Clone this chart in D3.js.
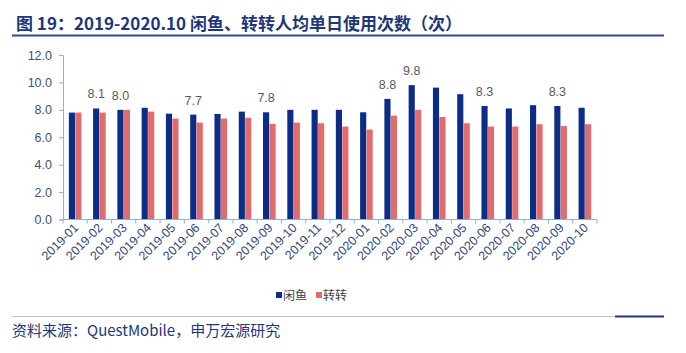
<!DOCTYPE html>
<html>
<head>
<meta charset="utf-8">
<script src="https://cdn.jsdelivr.net/npm/d3@7"></script>
<style>
  body { margin: 0; background: #fff; }
  svg { display: block; }
</style>
</head>
<body>
<div class="chart"></div>
<script>
const width = 686;
const height = 353;

// data
const months = ["2019-01", "2019-02", "2019-03", "2019-04", "2019-05", "2019-06", "2019-07", "2019-08",
    "2019-09", "2019-10", "2019-11", "2019-12", "2020-01", "2020-02", "2020-03", "2020-04",
    "2020-05", "2020-06", "2020-07", "2020-08", "2020-09", "2020-10"];
const xianyu = [7.8, 8.1, 8.0, 8.15, 7.72, 7.65, 7.7, 7.87, 7.82, 8.0, 8.0, 8.0, 7.82, 8.8, 9.8, 9.62,
    9.14, 8.28, 8.1, 8.34, 8.28, 8.15];
const zhuanzhuan = [7.8, 7.8, 8.0, 7.87, 7.36, 7.07, 7.36, 7.42, 6.97, 7.07, 7.02, 6.78, 6.56, 7.58,
    8.0, 7.48, 7.02, 6.78, 6.78, 6.95, 6.82, 6.95];
// months that carry a value label on the 闲鱼 bar
const labelled = ["2019-02", "2019-03", "2019-06", "2019-09", "2020-02", "2020-03", "2020-06", "2020-09"];
const yTicks = [0, 2, 4, 6, 8, 10, 12];
const seriesNames = ["闲鱼", "转转"];
const colors = ["#0b2d85", "#e36b6b"];

const titleText = "图 19：2019-2020.10 闲鱼、转转人均单日使用次数（次）";
const sourceText = "资料来源：QuestMobile，申万宏源研究";

const cjk = "'Noto Sans CJK SC', 'Noto Sans', sans-serif";
const latin = "'Liberation Sans', Arial, sans-serif";

const svg = d3.select(".chart").append("svg")
    .attr("width", width)
    .attr("height", height);

svg.append("rect").attr("width", width).attr("height", height).attr("fill", "#fff");

// Title + rule
svg.append("text")
    .attr("x", 16)
    .attr("y", 30)
    .attr("font-family", cjk)
    .attr("font-weight", "bold")
    .attr("font-size", 17)
    .attr("fill", "#1d3778")
    .text(titleText);

svg.append("line")
    .attr("x1", 12).attr("x2", 664)
    .attr("y1", 35.5).attr("y2", 35.5)
    .attr("stroke", "#2b4a92")
    .attr("stroke-width", 2);

// Scales
const x = d3.scaleBand()
    .domain(months)
    .range([63, 597]);

const y = d3.scaleLinear()
    .domain([0, 12])
    .range([219.5, 55]);

const x1 = d3.scaleBand()
    .domain(seriesNames)
    .range([0, 12.6])
    .paddingInner(0.05);

const barOffset = x.bandwidth() / 2 - 6.3;
const axisColor = "#8eb1d9";

// Y axis
const yAxis = svg.append("g")
    .attr("transform", "translate(63,0)")
    .call(d3.axisLeft(y).tickValues(yTicks).tickFormat(d3.format(".1f")).tickSize(4).tickPadding(7));
yAxis.select(".domain").attr("stroke", axisColor);
yAxis.selectAll(".tick line").attr("stroke", axisColor);
yAxis.selectAll(".tick text")
    .attr("font-family", latin)
    .attr("font-size", 12.5)
    .attr("fill", "#3f4f78");

// Bars
const groups = svg.append("g")
    .selectAll("g")
    .data(months)
    .join("g")
    .attr("transform", d => `translate(${x(d) + barOffset},0)`);

groups.append("rect")
    .attr("x", x1("闲鱼"))
    .attr("width", x1.bandwidth())
    .attr("y", (d, i) => y(xianyu[i]))
    .attr("height", (d, i) => y(0) - y(xianyu[i]))
    .attr("fill", colors[0]);

groups.append("rect")
    .attr("x", x1("转转"))
    .attr("width", x1.bandwidth())
    .attr("y", (d, i) => y(zhuanzhuan[i]))
    .attr("height", (d, i) => y(0) - y(zhuanzhuan[i]))
    .attr("fill", colors[1]);

// Value labels on selected 闲鱼 bars
groups.filter(d => labelled.includes(d))
    .append("text")
    .attr("x", x1("闲鱼") + x1.bandwidth() / 2)
    .attr("y", d => y(xianyu[months.indexOf(d)]) - 10)
    .attr("text-anchor", "middle")
    .attr("font-family", latin)
    .attr("font-size", 12.5)
    .attr("fill", "#5a5a5a")
    .text(d => d3.format(".1f")(xianyu[months.indexOf(d)]));

// X axis: line, ticks between categories, rotated labels
const xAxis = svg.append("g")
    .attr("transform", `translate(0,${y(0)})`);

xAxis.append("line")
    .attr("x1", x.range()[0]).attr("x2", x.range()[1])
    .attr("stroke", axisColor)
    .attr("stroke-width", 1.2);

xAxis.selectAll("line.tick")
    .data(months.concat(["end"]))
    .join("line")
    .attr("class", "tick")
    .attr("x1", (d, i) => x.range()[0] + i * x.step())
    .attr("x2", (d, i) => x.range()[0] + i * x.step())
    .attr("y1", 0).attr("y2", 4)
    .attr("stroke", axisColor);

xAxis.selectAll("text")
    .data(months)
    .join("text")
    .attr("transform", d => `translate(${x(d) + x.bandwidth() / 2 + 4},${9}) rotate(-45)`)
    .attr("text-anchor", "end")
    .attr("font-family", latin)
    .attr("font-size", 12.5)
    .attr("fill", "#34467a")
    .text(d => d);

// Legend
const legend = svg.append("g")
    .attr("transform", "translate(276,295)");

const item = legend.selectAll("g")
    .data(seriesNames)
    .join("g")
    .attr("transform", (d, i) => `translate(${i * 40},0)`);

item.append("rect")
    .attr("x", 0).attr("y", -3)
    .attr("width", 6).attr("height", 6)
    .attr("fill", (d, i) => colors[i]);

item.append("text")
    .attr("x", 7)
    .attr("y", 4.5)
    .attr("font-family", cjk)
    .attr("font-size", 12)
    .attr("fill", "#404040")
    .text(d => d);

// Footer
svg.append("line")
    .attr("x1", 12).attr("x2", 615)
    .attr("y1", 316.5).attr("y2", 316.5)
    .attr("stroke", "#c4c4c4");

svg.append("line")
    .attr("x1", 615).attr("x2", 664)
    .attr("y1", 316.5).attr("y2", 316.5)
    .attr("stroke", "#1d3778")
    .attr("stroke-width", 2);

svg.append("text")
    .attr("x", 12)
    .attr("y", 336)
    .attr("font-family", cjk)
    .attr("font-size", 15)
    .attr("fill", "#1d3778")
    .text(sourceText);
</script>
</body>
</html>
